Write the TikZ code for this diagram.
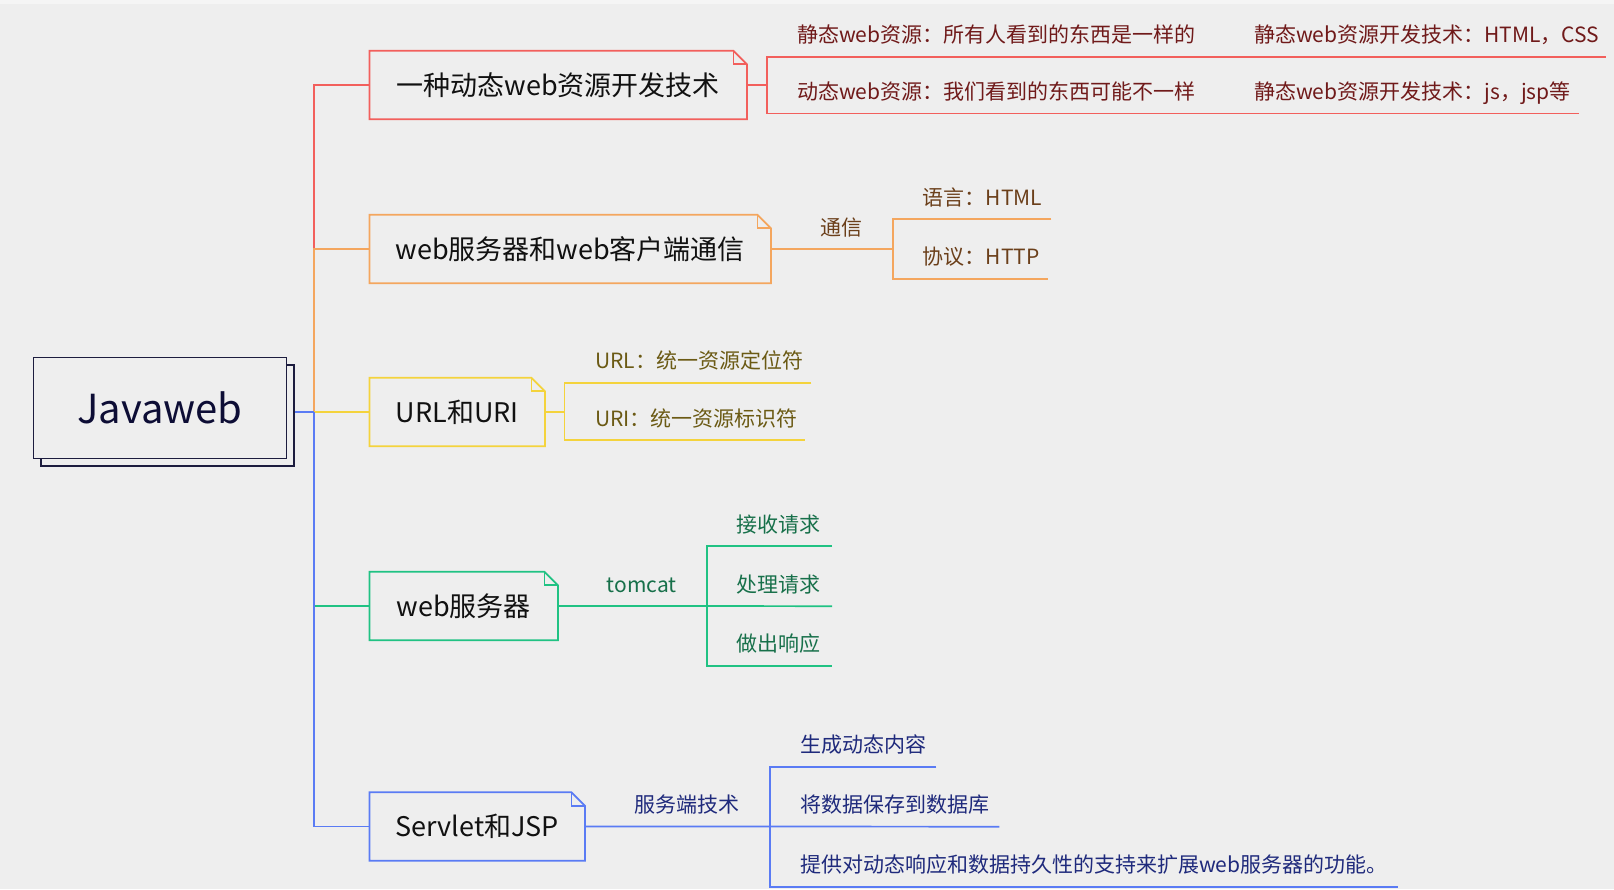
\documentclass[tikz,border=0pt]{standalone}
\usepackage{fontspec}
\setmainfont{Noto Sans CJK SC}
\usepackage{tikz}
\usetikzlibrary{calc,shadows,backgrounds}
\definecolor{bggray}{HTML}{EEEEEE}
\definecolor{topband}{HTML}{F5F5F5}
\definecolor{rootnavy}{HTML}{1C1C3E}
\definecolor{rootink}{HTML}{0D0D35}
\definecolor{topicink}{HTML}{111111}
\definecolor{redline}{HTML}{F25F5C}
\definecolor{redink}{HTML}{701A1A}
\definecolor{orangeline}{HTML}{F4A65E}
\definecolor{orangeink}{HTML}{6B3F1A}
\definecolor{yellowline}{HTML}{F4D33C}
\definecolor{yellowink}{HTML}{6B5A14}
\definecolor{greenline}{HTML}{20C283}
\definecolor{greenink}{HTML}{17704A}
\definecolor{blueline}{HTML}{5A7BF4}
\definecolor{blueink}{HTML}{1F2A7C}
% folded-corner outline round a topic node
\newcommand{\dogear}[2]{%
  \draw[line width=1.7pt, #2] (#1.south west) -- (#1.north west)
    -- ([xshift=-13.5pt]#1.north east) -- ([yshift=-13.5pt]#1.north east)
    -- (#1.south east) -- cycle;
  \draw[line width=1.7pt, #2] ([xshift=-13.5pt]#1.north east) |- ([yshift=-13.5pt]#1.north east);}

\begin{document}
\begin{tikzpicture}[x=1pt, y=-1pt,
    root/.style={draw=rootnavy, line width=1.6pt, fill=bggray, minimum width=253pt,
                 minimum height=101pt, inner sep=0pt, font=\fontsize{40}{40}\selectfont,
                 text=rootink, copy shadow={shadow xshift=7.6pt, shadow yshift=-7.6pt}},
    topic/.style={anchor=west, minimum height=68pt, inner sep=0pt, text height=23.8pt,
                  text depth=3.2pt, font=\fontsize{27}{27}\selectfont, text=topicink},
    leaf/.style={anchor=west, minimum height=44pt, inner sep=0pt, text height=18.5pt,
                 text depth=2.5pt, font=\fontsize{21}{21}\selectfont},
    tag/.style={minimum height=44pt, inner sep=0pt, text height=18.5pt,
                text depth=2.5pt, font=\fontsize{21}{21}\selectfont},
    wire/.style={line width=1.7pt}
]
    \useasboundingbox (0,0) rectangle (1614,889);
    \begin{scope}[on background layer]
        \fill[bggray] (0,0) rectangle (1614,889);
        \fill[topband] (0,0) rectangle (1614,4);
    \end{scope}

    % root and first level
    \node[root] (root) at (160,408) {Javaweb};
    \coordinate (hub) at (314,412);
    \node[topic, minimum width=377pt] (dyn) at (369.5,85) {一种动态web资源开发技术};
    \node[topic, minimum width=401pt] (comm) at (369.5,249) {web服务器和web客户端通信};
    \node[topic, minimum width=175pt] (url) at (369.5,412) {URL和URI};
    \node[topic, minimum width=188pt] (srv) at (369.5,606) {web服务器};
    \node[topic, minimum width=215pt] (jsp) at (369.5,826.5) {Servlet和JSP};
    \dogear{dyn}{redline}
    \dogear{comm}{orangeline}
    \dogear{url}{yellowline}
    \dogear{srv}{greenline}
    \dogear{jsp}{blueline}

    \draw[wire, redline] (hub) |- (dyn.west);
    \draw[wire, orangeline] (hub) |- (comm.west);
    \draw[wire, yellowline] (hub) -- (url.west);
    \draw[wire, greenline] (hub) |- (srv.west);
    \draw[wire, blueline] (hub) |- (jsp.west);
    \draw[wire, blueline] ($(root.east |- hub)+(7.6,0)$) -- (hub);

    % red branch
    \coordinate (rfork) at ($(dyn.east)+(20,0)$);
    \node[leaf, text=redink] (stat) at (797,34.6) {静态web资源：所有人看到的东西是一样的};
    \node[leaf, text=redink] (stattech) at (1254,34.6) {静态web资源开发技术：HTML，CSS};
    \node[leaf, text=redink] (dynm) at (797,91.3) {动态web资源：我们看到的东西可能不一样};
    \node[leaf, text=redink] (dyntech) at (1254,91.3) {静态web资源开发技术：js，jsp等};
    \draw[wire, redline] (dyn.east) -- (rfork);
    \draw[wire, redline] ($(stattech.south east)+(6,0)$) -- (stat.south east) -- (rfork |- stat.south)
        -- (rfork |- dynm.south) -- (dynm.south east) -- ($(dyntech.south east)+(8,0)$);

    % orange branch
    \node[tag, text=orangeink] (talk) at (841.7,227) {通信};
    \coordinate (ofork) at (892.7,249);
    \node[leaf, text=orangeink] (lang) at (922.7,197) {语言：HTML};
    \node[leaf, text=orangeink] (proto) at (922.7,256.7) {协议：HTTP};
    \draw[wire, orangeline] (comm.east) -- (ofork);
    \draw[wire, orangeline] ($(lang.south east)+(9,0)$) -- (ofork |- lang.south)
        -- (ofork |- proto.south) -- ($(proto.south east)+(8,0)$);

    % yellow branch
    \coordinate (yfork) at ($(url.east)+(19.5,0)$);
    \node[leaf, text=yellowink] (locator) at (595,360.7) {URL：统一资源定位符};
    \node[leaf, text=yellowink] (ident) at (595,418) {URI：统一资源标识符};
    \draw[wire, yellowline] (url.east) -- (yfork);
    \draw[wire, yellowline] ($(locator.south east)+(8,0)$) -- (yfork |- locator.south)
        -- (yfork |- ident.south) -- ($(ident.south east)+(7,0)$);

    % green branch
    \node[tag, text=greenink] (tomcat) at (641.7,584) {tomcat};
    \coordinate (gfork) at (706.7,606);
    \node[leaf, text=greenink] (recv) at (736.7,524) {接收请求};
    \node[leaf, text=greenink] (handle) at (736.7,584) {处理请求};
    \node[leaf, text=greenink] (reply) at (736.7,643.7) {做出响应};
    \draw[wire, greenline] (srv.east) -- (gfork) -- ($(handle.south east)+(11,0)$);
    \draw[wire, greenline] ($(recv.south east)+(11,0)$) -- (gfork |- recv.south)
        -- (gfork |- reply.south) -- ($(reply.south east)+(11,0)$);

    % blue branch
    \node[tag, text=blueink] (tech) at (686.7,804.5) {服务端技术};
    \coordinate (bfork) at (770,826.5);
    \node[leaf, text=blueink] (gen) at (800,744.7) {生成动态内容};
    \node[leaf, text=blueink] (store) at (800,804.5) {将数据保存到数据库};
    \node[leaf, text=blueink] (extend) at (800,864.7) {提供对动态响应和数据持久性的支持来扩展web服务器的功能。};
    \draw[wire, blueline] (jsp.east) -- (bfork) -- ($(store.south east)+(10,0)$);
    \draw[wire, blueline] ($(gen.south east)+(10,0)$) -- (bfork |- gen.south)
        -- (bfork |- extend.south) -- ($(extend.south east)+(10,0)$);
\end{tikzpicture}
\end{document}
